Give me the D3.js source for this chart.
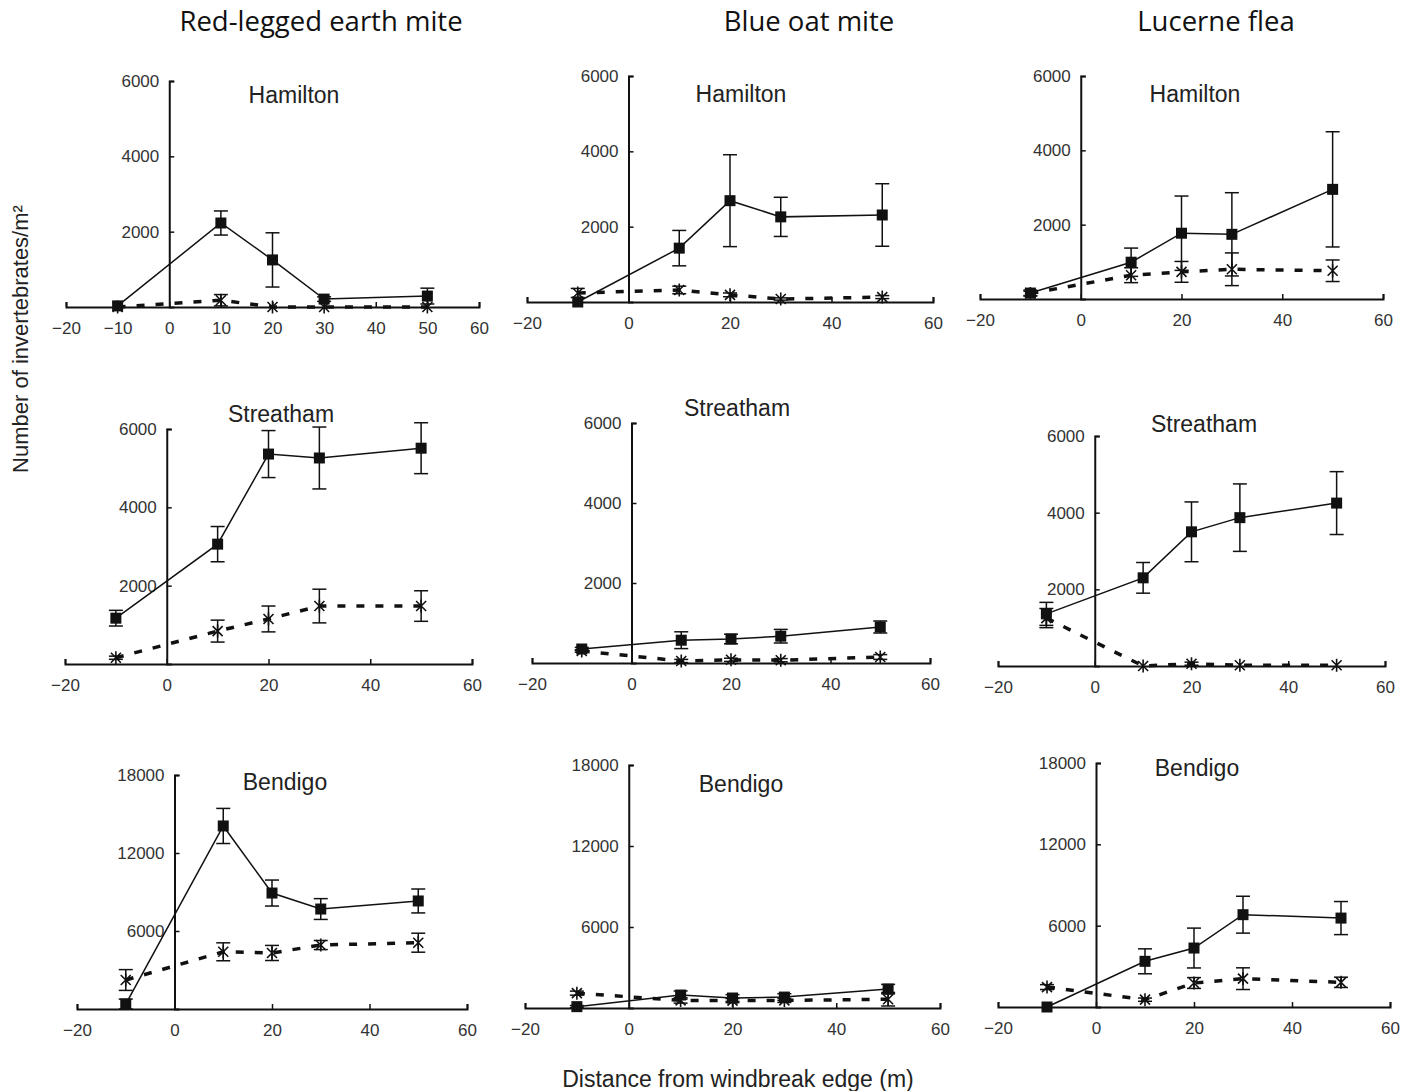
<!DOCTYPE html>
<html>
<head>
<meta charset="utf-8">
<script src="https://cdn.jsdelivr.net/npm/d3@7"></script>
<style>
body { margin: 0; background: #fff; }
.axis .domain { stroke: #111; stroke-width: 2; }
.axis .tick line { stroke: #111; stroke-width: 1.5; }
.axis text { font-family: "Liberation Sans", Arial, sans-serif; font-size: 17px; fill: #333; }
</style>
</head>
<body>
<div class="figure"></div>
<script>
// distances sampled (m from windbreak edge)
var distances = [-10, 10, 20, 30, 50];
var species = ["Red-legged earth mite", "Blue oat mite", "Lucerne flea"];
var sites = ["Hamilton", "Streatham", "Bendigo"];
var siteYMax = [6000, 6000, 18000];
var siteYTicks = [[2000, 4000, 6000], [2000, 4000, 6000], [6000, 12000, 18000]];
var xTicksFine = [-20, -10, 0, 10, 20, 30, 40, 50, 60];
var xTicksCoarse = [-20, 0, 20, 40, 60];

// Red-legged earth mite
var rlemHamiltonSolid = [30, 2230, 1250, 210, 290];
var rlemHamiltonSolidErr = [0, 320, 720, 60, 210];
var rlemHamiltonDashed = [0, 180, 0, 0, 0];
var rlemHamiltonDashedErr = [0, 150, 0, 0, 0];
var rlemStreathamSolid = [1170, 3060, 5360, 5260, 5510];
var rlemStreathamSolidErr = [200, 450, 600, 790, 650];
var rlemStreathamDashed = [160, 840, 1150, 1480, 1480];
var rlemStreathamDashedErr = [40, 280, 330, 430, 390];
var rlemBendigoSolid = [380, 14080, 8920, 7690, 8310];
var rlemBendigoSolidErr = [380, 1350, 1000, 800, 920];
var rlemBendigoDashed = [2230, 4400, 4310, 4920, 5100];
var rlemBendigoDashedErr = [800, 690, 580, 350, 730];

// Blue oat mite
var bomHamiltonSolid = [0, 1430, 2690, 2260, 2310];
var bomHamiltonSolidErr = [0, 470, 1220, 520, 830];
var bomHamiltonDashed = [240, 320, 190, 80, 130];
var bomHamiltonDashedErr = [120, 100, 50, 30, 40];
var bomStreathamSolid = [350, 570, 600, 670, 900];
var bomStreathamSolidErr = [40, 210, 120, 170, 150];
var bomStreathamDashed = [300, 50, 80, 70, 150];
var bomStreathamDashedErr = [30, 40, 40, 40, 60];
var bomBendigoSolid = [100, 960, 740, 810, 1400];
var bomBendigoSolidErr = [80, 300, 250, 250, 350];
var bomBendigoDashed = [1100, 560, 550, 560, 650];
var bomBendigoDashedErr = [150, 200, 150, 150, 500];

// Lucerne flea
var lfHamiltonSolid = [160, 990, 1770, 1740, 2950];
var lfHamiltonSolidErr = [80, 380, 1000, 1120, 1550];
var lfHamiltonDashed = [150, 640, 730, 800, 760];
var lfHamiltonDashedErr = [60, 200, 280, 440, 290];
var lfStreathamSolid = [1360, 2300, 3500, 3870, 4250];
var lfStreathamSolidErr = [300, 400, 780, 880, 820];
var lfStreathamDashed = [1250, 0, 60, 20, 20];
var lfStreathamDashedErr = [250, 0, 40, 0, 0];
var lfBendigoSolid = [0, 3370, 4350, 6810, 6560];
var lfBendigoSolidErr = [0, 920, 1470, 1360, 1220];
var lfBendigoDashed = [1470, 540, 1770, 2090, 1820];
var lfBendigoDashedErr = [180, 120, 400, 800, 380];

var seriesByPanel = [
  [[rlemHamiltonSolid, rlemHamiltonSolidErr, rlemHamiltonDashed, rlemHamiltonDashedErr],
   [rlemStreathamSolid, rlemStreathamSolidErr, rlemStreathamDashed, rlemStreathamDashedErr],
   [rlemBendigoSolid, rlemBendigoSolidErr, rlemBendigoDashed, rlemBendigoDashedErr]],
  [[bomHamiltonSolid, bomHamiltonSolidErr, bomHamiltonDashed, bomHamiltonDashedErr],
   [bomStreathamSolid, bomStreathamSolidErr, bomStreathamDashed, bomStreathamDashedErr],
   [bomBendigoSolid, bomBendigoSolidErr, bomBendigoDashed, bomBendigoDashedErr]],
  [[lfHamiltonSolid, lfHamiltonSolidErr, lfHamiltonDashed, lfHamiltonDashedErr],
   [lfStreathamSolid, lfStreathamSolidErr, lfStreathamDashed, lfStreathamDashedErr],
   [lfBendigoSolid, lfBendigoSolidErr, lfBendigoDashed, lfBendigoDashedErr]]
];

// pixel layout of each panel (x range for -20..60, y range for 0..max, title spot)
var layout = [
  {sp: 0, site: 0, xr: [66, 479], yr: [307, 81], tx: 294, ty: 103, fine: true},
  {sp: 1, site: 0, xr: [527, 933], yr: [302, 76], tx: 741, ty: 102},
  {sp: 2, site: 0, xr: [980, 1383], yr: [299, 76], tx: 1195, ty: 102},
  {sp: 0, site: 1, xr: [65, 472], yr: [664, 429], tx: 281, ty: 422},
  {sp: 1, site: 1, xr: [532, 930], yr: [663, 423], tx: 737, ty: 416},
  {sp: 2, site: 1, xr: [998, 1385], yr: [666, 436], tx: 1204, ty: 432},
  {sp: 0, site: 2, xr: [77, 467], yr: [1009, 775], tx: 285, ty: 790},
  {sp: 1, site: 2, xr: [525, 940], yr: [1008, 765], tx: 741, ty: 792},
  {sp: 2, site: 2, xr: [998, 1390], yr: [1007, 763], tx: 1197, ty: 776}
];
var headerX = [321, 809, 1216];

var width = 1404, height = 1091;
var svg = d3.select(".figure").append("svg")
  .attr("width", width)
  .attr("height", height);

// column headers
svg.selectAll(".header")
  .data(species)
  .enter().append("text")
  .attr("class", "header")
  .attr("x", function(d, i) { return headerX[i]; })
  .attr("y", 31)
  .attr("text-anchor", "middle")
  .style("font-family", "'Open Sans', Lato, sans-serif")
  .style("font-size", "27.5px")
  .style("fill", "#111")
  .text(function(d) { return d; });

var starPath = "M-5,-5L5,5M-5,5L5,-5M0,-6.5L0,6.5";

layout.forEach(function(p) {
  var x = d3.scaleLinear().domain([-20, 60]).range(p.xr);
  var y = d3.scaleLinear().domain([0, siteYMax[p.site]]).range(p.yr);
  var s = seriesByPanel[p.sp][p.site];
  var g = svg.append("g");

  g.append("g")
    .attr("class", "axis")
    .attr("transform", "translate(0," + y(0) + ")")
    .call(d3.axisBottom(x).tickValues(p.fine ? xTicksFine : xTicksCoarse).tickSize(-5).tickPadding(15));

  g.append("g")
    .attr("class", "axis")
    .attr("transform", "translate(" + x(0) + ",0)")
    .call(d3.axisLeft(y).tickValues(siteYTicks[p.site]).tickFormat(d3.format("d")).tickSize(-5).tickPadding(10));

  g.append("text")
    .attr("x", p.tx)
    .attr("y", p.ty)
    .attr("text-anchor", "middle")
    .style("font-family", "'Liberation Sans', Arial, sans-serif")
    .style("font-size", "23px")
    .style("fill", "#222")
    .text(sites[p.site]);

  var line = d3.line()
    .x(function(d, i) { return x(distances[i]); })
    .y(function(d) { return y(d); });

  // dashed series
  g.append("path")
    .attr("d", line(s[2]))
    .attr("fill", "none")
    .attr("stroke", "#111")
    .attr("stroke-width", 3.5)
    .attr("stroke-dasharray", "8,11");

  // solid series
  g.append("path")
    .attr("d", line(s[0]))
    .attr("fill", "none")
    .attr("stroke", "#111")
    .attr("stroke-width", 1.5);

  // error bars for both
  [[s[2], s[3]], [s[0], s[1]]].forEach(function(pair) {
    var mean = pair[0], err = pair[1];
    var eb = g.append("g").selectAll("g")
      .data(distances.map(function(d, i) { return {d: d, m: mean[i], e: err[i]}; }).filter(function(o) { return o.e > 0; }))
      .enter().append("g")
      .attr("stroke", "#111")
      .attr("stroke-width", 1.5);
    eb.append("line")
      .attr("x1", function(o) { return x(o.d); })
      .attr("x2", function(o) { return x(o.d); })
      .attr("y1", function(o) { return y(Math.max(0, o.m - o.e)); })
      .attr("y2", function(o) { return y(o.m + o.e); });
    eb.append("line")
      .attr("x1", function(o) { return x(o.d) - 7; })
      .attr("x2", function(o) { return x(o.d) + 7; })
      .attr("y1", function(o) { return y(o.m + o.e); })
      .attr("y2", function(o) { return y(o.m + o.e); });
    eb.append("line")
      .attr("x1", function(o) { return x(o.d) - 7; })
      .attr("x2", function(o) { return x(o.d) + 7; })
      .attr("y1", function(o) { return y(Math.max(0, o.m - o.e)); })
      .attr("y2", function(o) { return y(Math.max(0, o.m - o.e)); });
  });

  // star markers
  g.append("g").selectAll("path")
    .data(s[2])
    .enter().append("path")
    .attr("d", starPath)
    .attr("transform", function(d, i) { return "translate(" + x(distances[i]) + "," + y(d) + ")"; })
    .attr("fill", "none")
    .attr("stroke", "#111")
    .attr("stroke-width", 1.6);

  // square markers
  g.append("g").selectAll("rect")
    .data(s[0])
    .enter().append("rect")
    .attr("x", function(d, i) { return x(distances[i]) - 5.5; })
    .attr("y", function(d) { return y(d) - 5.5; })
    .attr("width", 11)
    .attr("height", 11)
    .attr("fill", "#111");
});

// shared axis titles
svg.append("text")
  .attr("transform", "translate(28,339) rotate(-90)")
  .attr("text-anchor", "middle")
  .style("font-family", "'Liberation Sans', Arial, sans-serif")
  .style("font-size", "22px")
  .style("fill", "#222")
  .text("Number of invertebrates/m\u00b2");

svg.append("text")
  .attr("x", 738)
  .attr("y", 1087)
  .attr("text-anchor", "middle")
  .style("font-family", "'Liberation Sans', Arial, sans-serif")
  .style("font-size", "23px")
  .style("fill", "#222")
  .text("Distance from windbreak edge (m)");
</script>
</body>
</html>
